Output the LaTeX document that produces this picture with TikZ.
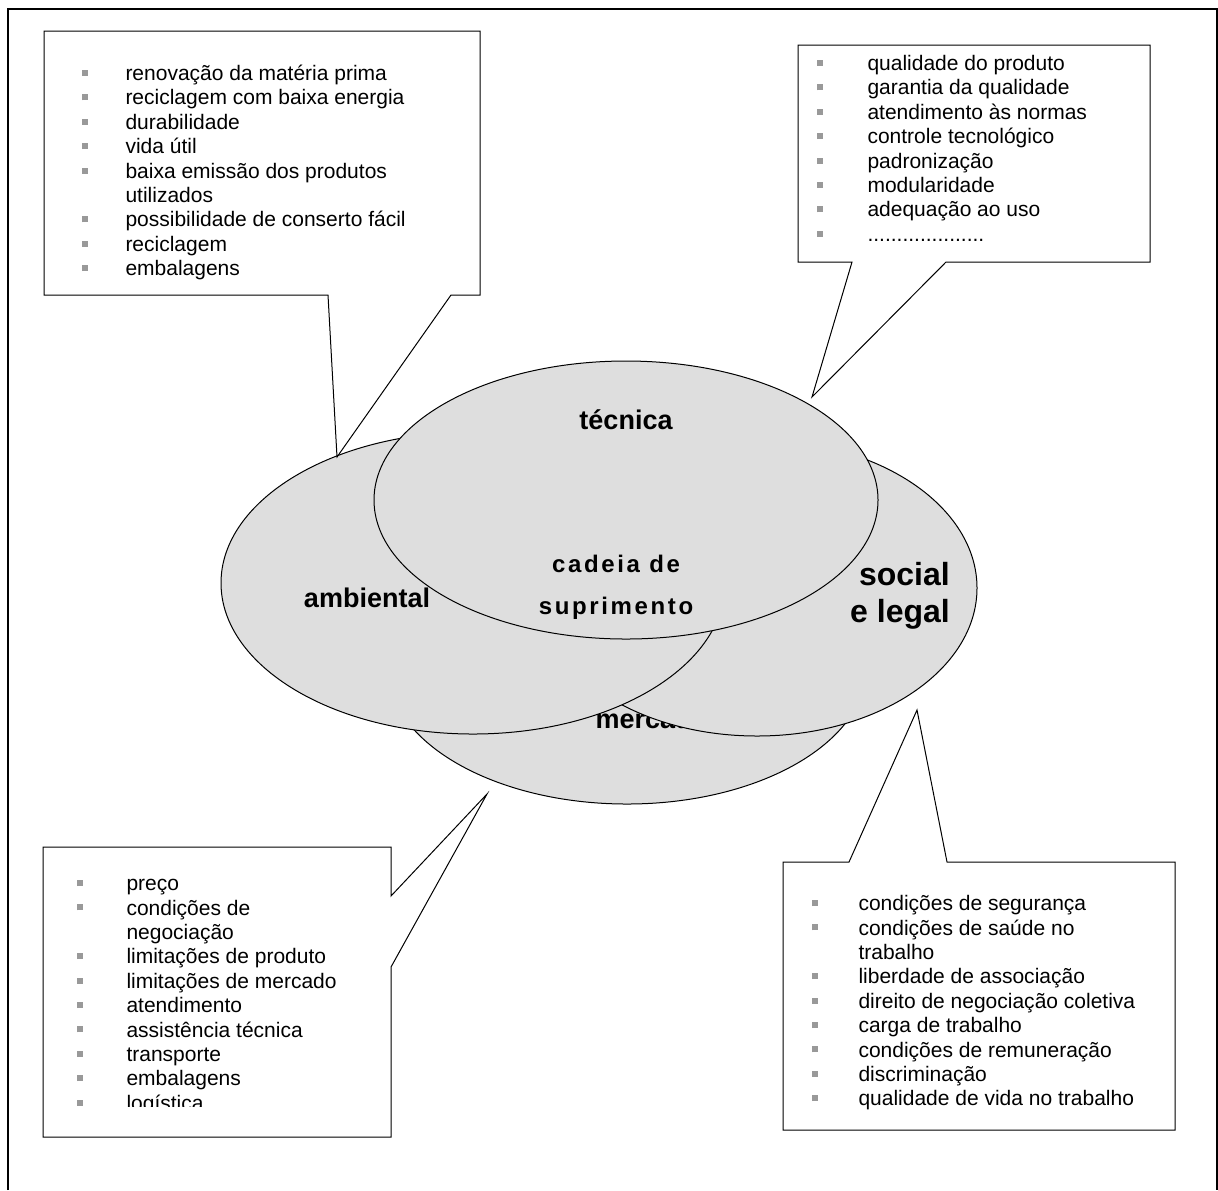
\documentclass[tikz,border=0pt]{standalone}
\usepackage{fontspec}
\setmainfont{Liberation Sans}
\newfontfamily\spacedfont[LetterSpace=11]{Liberation Sans}
\usepackage{xcolor}
\usepackage{tikz}
\usetikzlibrary{shapes.geometric}

\newcommand{\bul}{\textcolor{bulgray}{\rule[2.3pt]{3pt}{3pt}}}

\begin{document}
\begin{tikzpicture}[x=0.5pt, y=-0.5pt, line width=0.5pt, every node/.style={inner sep=0pt},
    oval/.style={ellipse, draw, fill=ovalbg},
    listtext/.style={anchor=north west, font=\fontsize{10.5}{12.2}\selectfont},
    bigword/.style={font=\fontsize{13.5}{16}\selectfont\bfseries}]
  \colorlet{ovalbg}{black!13} \colorlet{bulgray}{black!40}
  \useasboundingbox (0,0) rectangle (1218,1190);
  \draw[line width=0.8pt] (8,1190) -- (8,9) -- (1217,9) -- (1217,1190);

  % ovals, back to front
  \node[oval, minimum width=240pt, minimum height=138pt] (mercado) at (627,666) {};
  \node[bigword, anchor=west] (mercadoLabel) at (595,719) {mercado};
  \node[oval, minimum width=220pt, minimum height=148pt] (social) at (757,588) {};
  \node[font=\fontsize{16}{18.5}\selectfont\bfseries, align=right] (socialLabel) at (900,596) {social\\e legal};
  \node[oval, minimum width=252pt, minimum height=151pt] (ambiental) at (473,583) {};
  \node[bigword] (ambientalLabel) at (367,598) {ambiental};
  \node[oval, minimum width=252pt, minimum height=139pt] (tecnica) at (626,500) {};
  \node[bigword] (tecnicaLabel) at (626,420) {técnica};
  \node[font=\fontsize{12}{21}\spacedfont\bfseries, align=center] (cadeia) at (616,587) {cadeia de\\suprimento};

  % callouts
  \coordinate (ambTip) at (337,457);
  \coordinate (tecTip) at (812,397);
  \coordinate (merTip) at (487,794);
  \coordinate (socTip) at (917,710);
  \draw[fill=white] (44,31) -- (480,31) -- (480,295) -- (451,295) -- (ambTip) -- (328,295) -- (44,295) -- cycle;
  \draw[fill=white] (798,45) -- (1150,45) -- (1150,262) -- (946,262) -- (tecTip) -- (852,262) -- (798,262) -- cycle;
  \draw[fill=white] (43,847) -- (391,847) -- (391,896) -- (merTip) -- (391,967) -- (391,1137) -- (43,1137) -- cycle;
  \draw[fill=white] (783,862) -- (849,862) -- (socTip) -- (947,862) -- (1175,862) -- (1175,1130) -- (783,1130) -- cycle;

  \node[listtext] (ambList) at (81,63) {\begin{tabular}{@{}p{22pt}@{}l@{}}
    \bul & renovação da matéria prima\\
    \bul & reciclagem com baixa energia\\
    \bul & durabilidade\\
    \bul & vida útil\\
    \bul & baixa emissão dos produtos\\
         & utilizados\\
    \bul & possibilidade de conserto fácil\\
    \bul & reciclagem\\
    \bul & embalagens
  \end{tabular}};
  \node[listtext] (tecList) at (816,53) {\begin{tabular}{@{}p{25.5pt}@{}l@{}}
    \bul & qualidade do produto\\
    \bul & garantia da qualidade\\
    \bul & atendimento às normas\\
    \bul & controle tecnológico\\
    \bul & padronização\\
    \bul & modularidade\\
    \bul & adequação ao uso\\
    \bul & ....................
  \end{tabular}};
  \begin{scope}
    \clip (43,847) rectangle (391,1106);
    \node[listtext] (merList) at (76,873) {\begin{tabular}{@{}p{25pt}@{}l@{}}
      \bul & preço\\
      \bul & condições de\\
           & negociação\\
      \bul & limitações de produto\\
      \bul & limitações de mercado\\
      \bul & atendimento\\
      \bul & assistência técnica\\
      \bul & transporte\\
      \bul & embalagens\\
      \bul & logística
    \end{tabular}};
  \end{scope}
  \node[listtext] (socList) at (811,893) {\begin{tabular}{@{}p{23.5pt}@{}l@{}}
    \bul & condições de segurança\\
    \bul & condições de saúde no\\
         & trabalho\\
    \bul & liberdade de associação\\
    \bul & direito de negociação coletiva\\
    \bul & carga de trabalho\\
    \bul & condições de remuneração\\
    \bul & discriminação\\
    \bul & qualidade de vida no trabalho
  \end{tabular}};
\end{tikzpicture}
\end{document}
